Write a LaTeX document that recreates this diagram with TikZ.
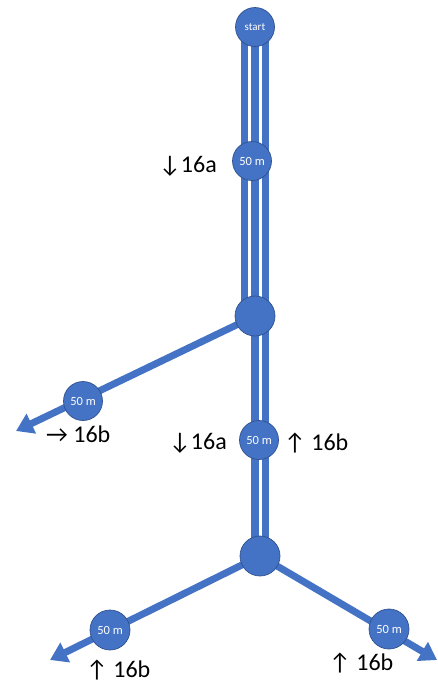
\documentclass[tikz,border=0pt]{standalone}
\usepackage{fontspec}
\setmainfont{Carlito}
\usetikzlibrary{arrows.meta}
\definecolor{obl}{HTML}{4472C4}
\definecolor{obd}{HTML}{2F528F}
\tikzset{
  pt/.style={circle, fill=obl, draw=obd, line width=0.7pt, inner sep=0pt, minimum size=#1, text=white},
  bar/.style={obl, line width=7.5pt},
  branch/.style={obl, line width=7pt, -{Triangle[length=17pt,width=21pt]}},
  lbl/.style={font=\fontsize{24}{24}\selectfont, inner sep=0pt, text=black},
  small/.style={font=\fontsize{12.5}{12.5}\selectfont},
}
\begin{document}
\begin{tikzpicture}[x=1pt,y=-1pt]
\useasboundingbox (0,0) rectangle (438,683);
% positions
\coordinate (tipA) at (16,431);
\coordinate (tipB) at (50,660);
\coordinate (tipC) at (437,660);
% vertical bars
\path (255,27) coordinate (s0) (255,316) coordinate (j1c) (260,556) coordinate (j2c);
\foreach \dx in {-10.3,0,10.4}{
  \draw[bar] ([xshift=\dx pt]s0) -- ([xshift=\dx pt]j1c);
}
\foreach \dx in {0,10.4}{
  \draw[bar] ([xshift=\dx pt]j1c) -- ([xshift=\dx pt]j1c |- j2c);
}
% branches
\draw[branch] (j1c) -- (tipA);
\draw[branch] (j2c) -- (tipB);
\draw[branch] (j2c) -- (tipC);
% nodes
\node[pt=39pt, font=\fontsize{11}{11}\selectfont] (start) at (s0) {start};
\node[pt=39pt, small] (n1) at (252,161) {50 m};
\node[pt=40pt] (j1) at (j1c) {};
\node[pt=39pt, small] (n2) at (259,440) {50 m};
\node[pt=40pt] (j2) at (j2c) {};
\node[pt=39pt, small] (n3) at (83,401) {50 m};
\node[pt=40pt, small] (n4) at (110,630) {50 m};
\node[pt=40pt, small] (n5) at (389,629) {50 m};
% labels
\node[lbl, anchor=base west] (l1) at (159,172) {↓16a};
\node[lbl, anchor=base west] (l2) at (46,442) {→ 16b};
\node[lbl, anchor=base west] (l3) at (169,449) {↓16a};
\node[lbl, anchor=base west] (l4) at (284,450) {↑ 16b};
\node[lbl, anchor=base west] (l5) at (86,677) {↑ 16b};
\node[lbl, anchor=base west] (l6) at (329,670) {↑ 16b};
\end{tikzpicture}
\end{document}
